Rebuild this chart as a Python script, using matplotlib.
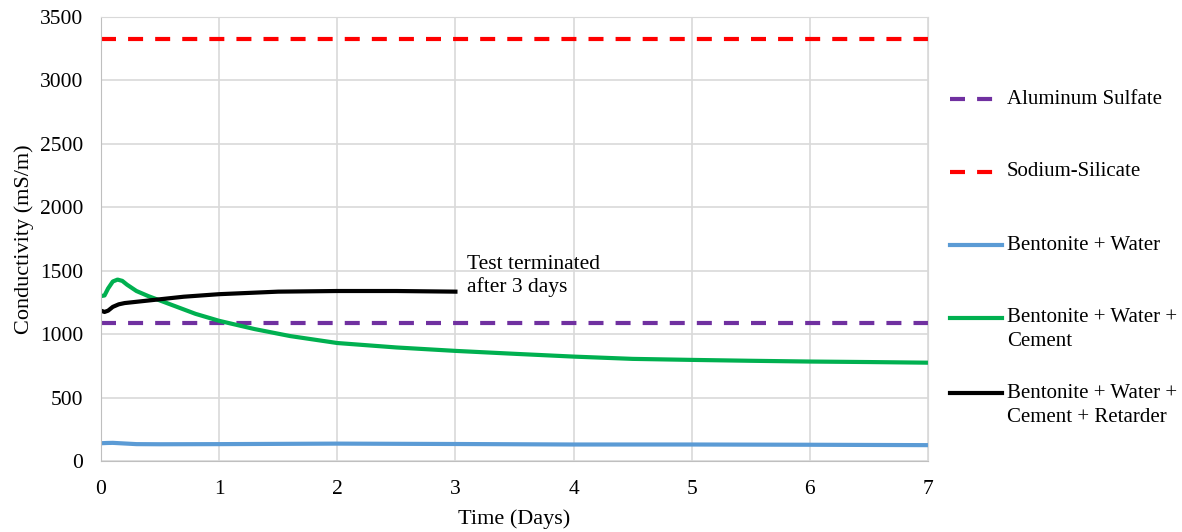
import matplotlib
matplotlib.use("Agg")
import matplotlib.pyplot as plt
from matplotlib.lines import Line2D

plt.rcParams['font.family'] = ['Liberation Serif', 'DejaVu Serif']

# Data
al_sulfate = 1090
na_silicate = 3330

days_bw = [0, 0.05, 0.1, 0.2, 0.3, 0.5, 1, 2, 3, 4, 5, 6, 7]
bw = [140, 142, 143, 138, 133, 132, 133, 137, 134, 130, 130, 128, 125]

days_bwc = [0, 0.03, 0.06, 0.1, 0.14, 0.18, 0.22, 0.3, 0.4, 0.6, 0.8, 1.0, 1.3, 1.6, 2.0, 2.5, 3.0, 3.5, 4.0, 4.5, 5.0, 5.5, 6.0, 6.5, 7.0]
bwc = [1300, 1305, 1360, 1415, 1430, 1420, 1390, 1340, 1300, 1230, 1160, 1105, 1040, 985, 930, 895, 868, 845, 823, 805, 797, 790, 784, 780, 775]

days_bwcr = [0, 0.03, 0.06, 0.1, 0.15, 0.2, 0.3, 0.5, 0.7, 1.0, 1.5, 2.0, 2.5, 3.0]
bwcr = [1185, 1175, 1185, 1215, 1235, 1245, 1255, 1275, 1295, 1315, 1335, 1340, 1340, 1335]

labels = ["Aluminum Sulfate", "Sodium-Silicate", "Bentonite + Water",
          "Bentonite + Water +\nCement", "Bentonite + Water +\nCement + Retarder"]
colors = ['#7030A0', '#FF0000', '#5B9BD5', '#00B050', 'black']
dash = (0, (3.6, 2.9))
styles = [dash, dash, '-', '-', '-']

W, H = 1182, 532
fig = plt.figure(figsize=(W / 100, H / 100), dpi=100)
ax = fig.add_axes([101 / W, 1 - 461 / H, (928 - 101) / W, (461 - 17) / H])

ax.plot([0, 7], [al_sulfate, al_sulfate], color=colors[0], lw=3, ls=styles[0])
ax.plot([0, 7], [na_silicate, na_silicate], color=colors[1], lw=3, ls=styles[1])
ax.plot(days_bw, bw, color=colors[2], lw=3)
ax.plot(days_bwc, bwc, color=colors[3], lw=3)
ax.plot(days_bwcr, bwcr, color=colors[4], lw=3)

ax.set_xlim(0, 7)
ax.set_ylim(0, 3500)
ax.set_xticks(range(0, 8))
ax.set_yticks(range(0, 3501, 500))
ax.grid(True, color='#D9D9D9', lw=1.2)
ax.set_axisbelow(True)
for s in ['top', 'right']:
    ax.spines[s].set_color('#D9D9D9')
for s in ['left', 'bottom']:
    ax.spines[s].set_color('#BFBFBF')
ax.tick_params(axis='y', length=0, labelsize=15.5, pad=13)
ax.tick_params(axis='x', length=0, labelsize=15.5, pad=14)
ax.set_xlabel('Time (Days)', fontsize=16, labelpad=7)
ax.set_ylabel('Conductivity (mS/m)', fontsize=16, labelpad=4)

ax.text(3.1, 1455, 'Test terminated\nafter 3 days', fontsize=15.5, va='center', ha='left', linespacing=1.2)

# legend drawn manually (handles aligned to first text line, as in the reference)
leg_y = [99, 172, 245, 318, 393]
for lab, c, st, y in zip(labels, colors, styles, leg_y):
    fy = 1 - y / H
    fig.add_artist(Line2D([950 / W, 1002 / W], [fy, fy], transform=fig.transFigure,
                          color=c, lw=3, ls=st))
    for i, ln in enumerate(lab.split('\n')):
        fig.text(1007 / W, 1 - (y + i * 24) / H, ln, fontsize=15, va='center', ha='left')

fig.savefig('out.png', dpi=100)
